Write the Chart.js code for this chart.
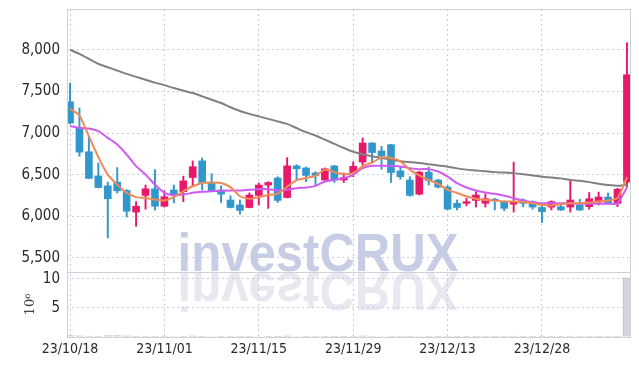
<!DOCTYPE html>
<html>
<head>
<meta charset="utf-8">
<script src="https://cdn.jsdelivr.net/npm/chart.js@4.4.1/dist/chart.umd.min.js"></script>
<style>
  html, body { margin: 0; padding: 0; background: #fff; }
  #wrap { width: 639px; height: 366px; }
</style>
</head>
<body>
<div id="wrap"><canvas id="priceChart" width="639" height="366"></canvas></div>
<script>
// --- DATA ---
const DATES = ['23/10/18', '23/11/01', '23/11/15', '23/11/29', '23/12/13', '23/12/28'];
const LABEL_IDX = [0, 10, 20, 30, 40, 50];
const PRICE_TICKS = [5500, 6000, 6500, 7000, 7500, 8000];
const VOL_TICKS = [0, 5, 10];

const OPENS  = [7375,7060,6775,6485,6365,6410,6310,6050,6250,6330, 6120,6315,6295,6465,6665,6405,6315,6195,6135,6105,
                6250,6375,6460,6225,6605,6580,6520,6435,6605,6435, 6515,6650,6880,6785,6860,6545,6435,6265,6530,6435,
                6350,6155,6155,6190,6155,6205,6175,6145,6195,6175, 6105,6110,6115,6110,6135,6115,6170,6230,6155,6410];
const HIGHS  = [7600,7300,6960,6640,6410,6585,6320,6175,6375,6560, 6305,6375,6480,6665,6700,6510,6365,6245,6195,6280,
                6400,6415,6475,6705,6620,6590,6535,6580,6610,6520, 6655,6940,6885,6840,6865,6600,6475,6540,6590,6445,
                6370,6195,6215,6295,6270,6215,6185,6650,6210,6185, 6125,6185,6150,6430,6205,6285,6290,6280,6335,8085];
const LOWS   = [7110,6720,6450,6340,5740,6280,5990,5880,6085,6075, 6110,6160,6175,6360,6315,6295,6165,6100,6025,6100,
                6135,6095,6165,6220,6435,6415,6365,6430,6405,6405, 6475,6605,6645,6565,6405,6445,6240,6255,6375,6340,
                6075,6075,6125,6110,6110,6075,6065,6050,6115,6085, 5925,6075,6070,6050,6070,6085,6135,6150,6115,6350];
const CLOSES = [7120,6770,6455,6345,6210,6305,6060,6120,6330,6120, 6235,6265,6425,6595,6405,6300,6265,6105,6070,6255,
                6375,6405,6190,6605,6570,6490,6490,6570,6435,6465, 6600,6880,6765,6725,6525,6475,6250,6530,6430,6350,
                6085,6105,6175,6255,6210,6185,6095,6175,6155,6110, 6055,6175,6075,6195,6075,6210,6230,6155,6325,7700];

const MA_SHORT = [7290,7210,6960,6710,6500,6380,6280,6230,6220,6200, 6190,6230,6300,6360,6400,6405,6400,6350,6240,6210,
                  6230,6255,6270,6355,6435,6460,6485,6560,6530,6505, 6520,6600,6645,6705,6700,6660,6560,6490,6435,6390,
                  6320,6280,6240,6210,6195,6190,6178,6177,6170,6157, 6137,6130,6145,6157,6157,6165,6177,6190,6217,6470];
const MA_MID   = [7085,7062,7054,7023,6942,6862,6742,6602,6500,6380, 6280,6253,6261,6281,6293,6300,6305,6309,6309,6317,
                  6325,6325,6309,6317,6337,6345,6365,6417,6437,6458, 6498,6578,6606,6606,6606,6598,6578,6566,6566,6537,
                  6477,6397,6345,6309,6285,6269,6245,6217,6189,6169, 6157,6157,6157,6157,6149,6149,6149,6149,6157,6345];
const MA_LONG  = [8000,7950,7890,7830,7790,7750,7710,7675,7640,7605, 7575,7540,7510,7480,7440,7400,7360,7310,7265,7230,
                  7200,7170,7140,7110,7060,7010,6970,6920,6870,6820, 6775,6745,6720,6700,6680,6660,6650,6640,6625,6610,
                  6595,6575,6560,6550,6540,6530,6525,6518,6505,6490, 6475,6465,6455,6437,6425,6410,6390,6375,6365,6380];

// volume, x 10^6
const VOLUMES = [0.25,0.22,0.18,0.12,0.26,0.25,0.22,0.14,0.10,0.12, 0.10,0.08,0.10,0.20,0.10,0.08,0.07,0.06,0.06,0.10,
                 0.08,0.06,0.07,0.20,0.08,0.06,0.05,0.07,0.06,0.05, 0.10,0.22,0.10,0.08,0.10,0.07,0.06,0.08,0.06,0.05,
                 0.10,0.05,0.04,0.05,0.05,0.05,0.05,0.18,0.06,0.05, 0.15,0.06,0.06,0.16,0.05,0.06,0.07,0.06,0.10,10.2];

// --- STYLE ---
const COLOR_UP = '#e8196b';
const COLOR_DOWN = '#3298cb';
const GRID_COLOR = '#c9cbe0';
const FRAME_COLOR = '#cfd0d8';
const TICK_FONT = '"Liberation Sans Narrow", "DejaVu Sans Condensed", sans-serif';

const candleColors = OPENS.map((o, i) => CLOSES[i] >= o ? COLOR_UP : COLOR_DOWN);
const toXY = arr => arr.map((v, i) => ({ x: i, y: v }));
const fixTicks = list => s => { s.ticks = list.map(v => ({ value: v })); };
// y axes: fixed width, no extra label padding
const fitLeft = s => { s.width = 67; s.paddingTop = 0; s.paddingBottom = 0; };

// Watermark + reflection, drawn under everything
const watermarkPlugin = {
    id: 'watermark',
    beforeDraw(chart) {
        const ctx = chart.ctx;
        const base = chart.scales.y.bottom;
        ctx.save();
        ctx.font = 'bold 53px "Liberation Sans", Arial, sans-serif';
        ctx.textAlign = 'center';
        ctx.textBaseline = 'alphabetic';
        const sx = 281 / ctx.measureText('investCRUX').width;
        // upright
        ctx.save();
        ctx.translate(318, base - 1);
        ctx.scale(sx, 1);
        ctx.fillStyle = '#c8cde6';
        ctx.fillText('investCRUX', 0, 0);
        ctx.restore();
        // mirror
        ctx.save();
        ctx.translate(318, base + 1);
        ctx.scale(sx, -1);
        ctx.fillStyle = '#e8e9f0';
        ctx.fillText('investCRUX', 0, 0);
        ctx.restore();
        ctx.restore();
    }
};

// Frame around both panels
const framePlugin = {
    id: 'frame',
    afterDraw(chart) {
        const { ctx, chartArea: { left, right, top, bottom } } = chart;
        const sep = chart.scales.y.bottom;
        ctx.save();
        ctx.strokeStyle = FRAME_COLOR;
        ctx.lineWidth = 1;
        ctx.strokeRect(left + 0.5, top + 0.5, right - left - 1, bottom - top);
        ctx.beginPath();
        ctx.moveTo(left, Math.round(sep) + 0.5);
        ctx.lineTo(right, Math.round(sep) + 0.5);
        ctx.stroke();
        ctx.restore();
    }
};

const ctx = document.getElementById('priceChart').getContext('2d');
new Chart(ctx, {
    type: 'bar',
    data: {
        datasets: [
            { type: 'line', data: toXY(MA_SHORT), yAxisID: 'y', borderColor: '#ef8a56', borderWidth: 2, pointRadius: 0, tension: 0.2 },
            { type: 'line', data: toXY(MA_MID), yAxisID: 'y', borderColor: '#cf5cf0', borderWidth: 2, pointRadius: 0, tension: 0.2 },
            { type: 'line', data: toXY(MA_LONG), yAxisID: 'y', borderColor: '#808080', borderWidth: 2, pointRadius: 0, tension: 0.2 },
            { data: LOWS.map((l, i) => ({ x: i, y: [l, HIGHS[i]] })), yAxisID: 'y', backgroundColor: candleColors,
              barThickness: 1.3, grouped: false },
            { data: OPENS.map((o, i) => ({ x: i, y: [o, CLOSES[i]] })), yAxisID: 'y', backgroundColor: candleColors,
              barThickness: 7, grouped: false },
            { data: toXY(VOLUMES), yAxisID: 'yv', backgroundColor: '#d3d3da', borderColor: '#c2c2ca', borderWidth: 1,
              barThickness: 8, grouped: false }
        ]
    },
    options: {
        responsive: false,
        animation: false,
        devicePixelRatio: 1,
        layout: { padding: { top: 9, right: 8, left: 0, bottom: 0 } },
        plugins: { legend: { display: false }, tooltip: { enabled: false } },
        scales: {
            x: {
                type: 'linear', min: -0.32, max: 59.43, offset: false,
                afterBuildTicks: fixTicks(LABEL_IDX),
                afterFit: s => { s.height = 29; s.paddingLeft = 0; s.paddingRight = 0; s.paddingTop = 0; s.paddingBottom = 0; },
                ticks: {
                    autoSkip: false, maxRotation: 0, padding: 4, color: '#2a2a2a',
                    font: { family: TICK_FONT, size: 14 },
                    callback: v => DATES[LABEL_IDX.indexOf(v)]
                },
                grid: { color: GRID_COLOR, drawTicks: false, offset: false },
                border: { display: false, dash: [2, 3] }
            },
            yv: {
                type: 'linear', position: 'left', stack: 'panels', stackWeight: 65,
                min: 0, max: 11.2,
                afterBuildTicks: fixTicks(VOL_TICKS),
                afterFit: fitLeft,
                ticks: {
                    autoSkip: false, padding: 7, color: '#2a2a2a',
                    font: { family: TICK_FONT, size: 15 },
                    callback: v => v === 0 ? '' : v
                },
                title: { display: true, text: '10⁶', color: '#444', padding: { top: 23, bottom: 0 },
                         font: { family: '"DejaVu Serif", serif', size: 13 } },
                grid: { color: GRID_COLOR, drawTicks: false },
                border: { display: false, dash: [2, 3] }
            },
            y: {
                type: 'linear', position: 'left', stack: 'panels', stackWeight: 263,
                min: 5330, max: 8490,
                afterBuildTicks: fixTicks(PRICE_TICKS),
                afterFit: fitLeft,
                ticks: {
                    autoSkip: false, padding: 7, color: '#2a2a2a',
                    font: { family: TICK_FONT, size: 15 },
                    callback: v => v.toLocaleString('en-US')
                },
                grid: { color: GRID_COLOR, drawTicks: false },
                border: { display: false, dash: [2, 3] }
            }
        }
    },
    plugins: [watermarkPlugin, framePlugin]
});
</script>
</body>
</html>
